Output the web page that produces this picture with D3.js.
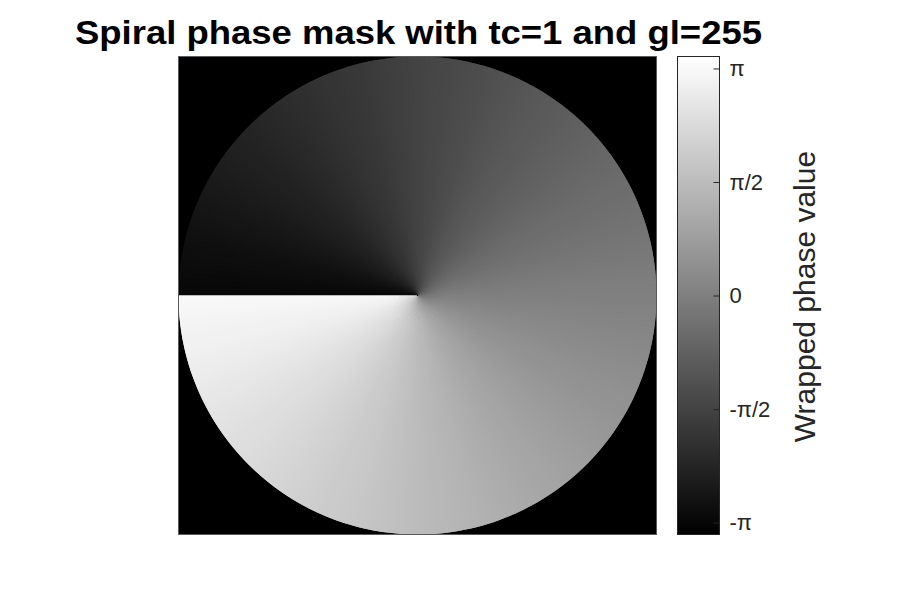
<!DOCTYPE html>
<html>
<head>
<meta charset="utf-8">
<script src="https://cdn.jsdelivr.net/npm/d3@7"></script>
<style>
  body { margin: 0; background: #fff; }
  svg { display: block; font-family: "Liberation Sans", Arial, sans-serif; }
</style>
</head>
<body>
<svg id="chart" width="911" height="600"></svg>
<script>
// mask parameters (from the title)
const topologicalCharge = 1;
const grayLevels = 255;

// colour limits of the colour bar (a bit wider than [-pi, pi])
const colorLimits = [-3.307, 3.307];

// colour bar ticks
const cbTickValues = [-Math.PI, -Math.PI / 2, 0, Math.PI / 2, Math.PI];
const cbTickLabels = ["-\u03c0", "-\u03c0/2", "0", "\u03c0/2", "\u03c0"];

const titleText = "Spiral phase mask with tc=1 and gl=255";
const cbLabelText = "Wrapped phase value";

const svg = d3.select("#chart");

// image axes (square, 478 px)
const ax = { x: 178.5, y: 56.5, size: 478 };
const cb = { x: 677.5, y: 56.5, w: 42, h: 478 };

const gray = d3.scaleLinear().domain(colorLimits).range(["#000", "#fff"]);

// pixel scales of the mask (unit square -> axes)
const xs = d3.scaleLinear().domain([-1, 1]).range([ax.x, ax.x + ax.size]);
const ys = d3.scaleLinear().domain([-1, 1]).range([ax.y, ax.y + ax.size]);

const img = svg.append("g");

// outside of the aperture is black
img.append("rect")
  .attr("x", xs(-1)).attr("y", ys(-1))
  .attr("width", xs(1) - xs(-1)).attr("height", ys(1) - ys(-1))
  .attr("fill", "#000");

// one wedge per quantised phase level
const step = 2 * Math.PI / grayLevels;
const wedges = [];
const shift = Math.PI * (topologicalCharge - 1) / topologicalCharge;
for (let k = 0; k < topologicalCharge; k++) {
  for (let i = 0; i < grayLevels; i++) {
    const p0 = -Math.PI + i * step;
    const p1 = p0 + step;
    // phase = tc * theta, theta measured on screen (y down) from +x axis
    const t0 = (p0 + 2 * Math.PI * k) / topologicalCharge - shift;
    const t1 = (p1 + 2 * Math.PI * k) / topologicalCharge - shift;
    // overlap onto the next wedge to hide anti-aliasing seams
    const ext = i < grayLevels - 1 ? (t1 - t0) : 0;
    wedges.push({ a0: t0 + Math.PI / 2, a1: t1 + ext + Math.PI / 2, phase: (p0 + p1) / 2 });
  }
}

const radius = xs(1) - xs(0);
const arc = d3.arc().innerRadius(0).outerRadius(radius)
  .startAngle(d => d.a0).endAngle(d => d.a1);

img.append("g")
  .attr("transform", `translate(${xs(0)},${ys(0)})`)
  .selectAll("path")
  .data(wedges)
  .join("path")
  .attr("d", arc)
  .attr("fill", d => gray(d.phase));

// axes frame
svg.append("rect")
  .attr("x", ax.x).attr("y", ax.y)
  .attr("width", ax.size).attr("height", ax.size)
  .attr("fill", "none").attr("stroke", "#5a5a5a").attr("stroke-width", 1);

// colour bar
const defs = svg.append("defs");
const grad = defs.append("linearGradient")
  .attr("id", "cbGrad").attr("x1", 0).attr("y1", 1).attr("x2", 0).attr("y2", 0);
grad.append("stop").attr("offset", "0%").attr("stop-color", gray(colorLimits[0]));
grad.append("stop").attr("offset", "100%").attr("stop-color", gray(colorLimits[1]));

svg.append("rect")
  .attr("x", cb.x).attr("y", cb.y).attr("width", cb.w).attr("height", cb.h)
  .attr("fill", "url(#cbGrad)")
  .attr("stroke", "#262626").attr("stroke-width", 1);

const cbScale = d3.scaleLinear().domain(colorLimits).range([cb.y + cb.h, cb.y]);

// ticks sit inside the bar on its right edge
const cbAxis = svg.append("g")
  .attr("transform", `translate(${cb.x + cb.w},0)`)
  .call(d3.axisRight(cbScale).tickValues(cbTickValues)
    .tickFormat((d, i) => cbTickLabels[i])
    .tickSizeInner(-6).tickSizeOuter(0).tickPadding(10));
cbAxis.select(".domain").remove();
cbAxis.selectAll(".tick line").attr("stroke", "#262626");
cbAxis.selectAll(".tick text")
  .attr("fill", "#262626")
  .attr("font-size", 22)
  .attr("font-family", "'Liberation Sans', Arial, sans-serif");

svg.append("text")
  .attr("transform", `translate(${815},${cb.y + cb.h / 2 + 1}) rotate(-90)`)
  .attr("text-anchor", "middle")
  .attr("font-size", 30)
  .attr("fill", "#262626")
  .text(cbLabelText);

// title
svg.append("text")
  .attr("x", 418.5)
  .attr("y", 44)
  .attr("text-anchor", "middle")
  .attr("font-size", 33.5)
  .attr("font-weight", "bold")
  .attr("textLength", 687)
  .attr("lengthAdjust", "spacingAndGlyphs")
  .attr("fill", "#000")
  .text(titleText);
</script>
</body>
</html>
